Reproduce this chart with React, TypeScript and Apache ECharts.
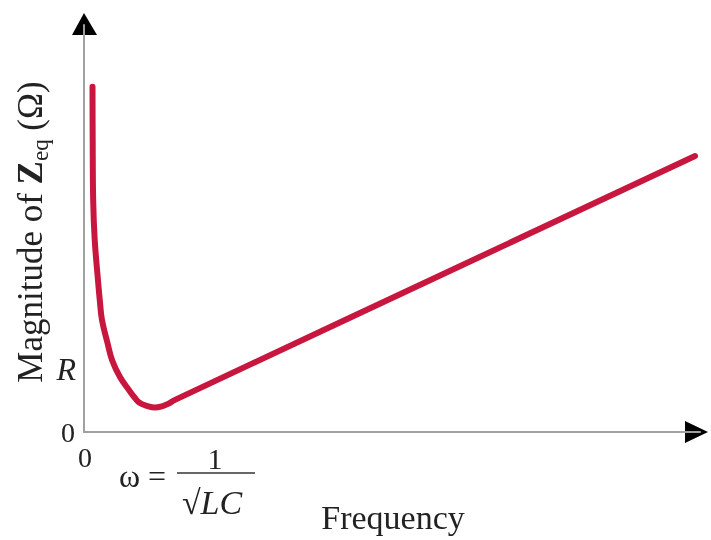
import React, { useEffect, useRef } from "react";
import * as echarts from "echarts";

// Frequency (x, 0..100 scale) and impedance magnitude (y, 0..100 scale)
const freq = [1.38, 1.41, 1.49, 1.74, 2.27, 2.56, 2.92, 3.81, 4.55, 5.84, 7.31, 8.28, 9.09, 10.23, 11.53, 12.66, 13.64, 14.77, 99.2];
const zeq = [84.8, 71.7, 57.0, 47.2, 37.3, 32.4, 27.5, 21.9, 17.7, 13.5, 10.3, 8.35, 7.1, 6.4, 6.0, 6.3, 6.9, 7.9, 67.8];
const yTickLabels = ["0", "R"];
const yTickValues = [0, 15.5];
const xTickLabels = ["0"];

export default function App() {
  const ref = useRef<HTMLDivElement>(null);
  useEffect(() => {
    if (!ref.current) return;
    const chart = echarts.init(ref.current, null, { renderer: "svg" });
    const serif = "Liberation Serif, Times New Roman, serif";
    const gridLeft = 84, gridRight = 11, gridTop = 25, gridBottom = 108;
    const H = 540;
    const plotH = H - gridTop - gridBottom;
    const yPix = (v: number) => gridTop + plotH * (1 - v / 100);
    chart.setOption({
      animation: false,
      grid: { left: gridLeft, right: gridRight, top: gridTop, bottom: gridBottom },
      xAxis: {
        type: "value", min: 0, max: 100,
        axisLine: { show: true, lineStyle: { color: "#a0a0a0", width: 2 } },
        axisTick: { show: false }, axisLabel: { show: false }, splitLine: { show: false },
      },
      yAxis: {
        type: "value", min: 0, max: 100,
        axisLine: { show: true, lineStyle: { color: "#a0a0a0", width: 2 } },
        axisTick: { show: false }, axisLabel: { show: false }, splitLine: { show: false },
      },
      series: [{
        type: "line",
        data: freq.map((f, i) => [f, zeq[i]]),
        smooth: 0.4,
        smoothConstraint: false,
        showSymbol: false,
        lineStyle: { color: "#c8173f", width: 6, cap: "round", join: "round" },
      }],
      graphic: [
        { type: "polygon", shape: { points: [[72, 35], [84, 13], [97, 35]] }, style: { fill: "#000" } },
        { type: "polygon", shape: { points: [[685, 421], [708, 432], [685, 443]] }, style: { fill: "#000" } },
        {
          type: "text", x: 75, y: yPix(yTickValues[0]),
          style: { text: yTickLabels[0], font: `28px ${serif}`, fill: "#222", align: "right", verticalAlign: "middle" },
        },
        {
          type: "text", x: 76, y: yPix(yTickValues[1]),
          style: { text: yTickLabels[1], font: `italic 32px ${serif}`, fill: "#222", align: "right", verticalAlign: "middle" },
        },
        {
          type: "text", x: gridLeft + 1, y: 457,
          style: { text: xTickLabels[0], font: `28px ${serif}`, fill: "#222", align: "center", verticalAlign: "middle" },
        },
        {
          type: "text", x: 119, y: 476,
          style: { text: "ω =", font: `32px ${serif}`, fill: "#222", align: "left", verticalAlign: "middle" },
        },
        {
          type: "text", x: 215, y: 458,
          style: { text: "1", font: `30px ${serif}`, fill: "#222", align: "center", verticalAlign: "middle" },
        },
        { type: "line", shape: { x1: 177, y1: 473, x2: 255, y2: 473 }, style: { stroke: "#333", lineWidth: 1.5 } },
        {
          type: "text", x: 212, y: 502,
          style: {
            text: "{r|√}{i|LC}",
            align: "center", verticalAlign: "middle",
            rich: {
              r: { font: `34px ${serif}`, fill: "#222" },
              i: { font: `italic 34px ${serif}`, fill: "#222" },
            },
          },
        },
        {
          type: "text", x: 393, y: 517,
          style: { text: "Frequency", font: `34px ${serif}`, fill: "#222", align: "center", verticalAlign: "middle" },
        },
        {
          type: "text", x: 30, y: 232, rotation: Math.PI / 2,
          style: {
            text: "{a|Magnitude of }{z|Z}{s|eq}{a| (Ω)}",
            align: "center", verticalAlign: "middle",
            rich: {
              a: { font: `35px ${serif}`, fill: "#222", lineHeight: 44 },
              z: { font: `bold 35px ${serif}`, fill: "#222", lineHeight: 44 },
              s: { font: `23px ${serif}`, fill: "#222", lineHeight: 24, verticalAlign: "bottom" },
            },
          },
        },
      ],
    });
    return () => chart.dispose();
  }, []);
  return <div ref={ref} style={{ position: "fixed", left: 0, top: 0, width: 711, height: 540 }} />;
}
